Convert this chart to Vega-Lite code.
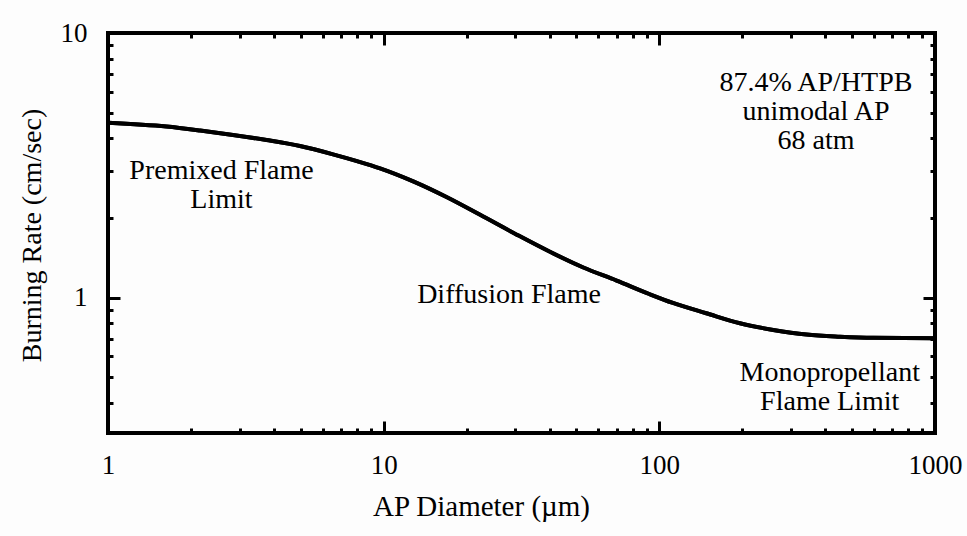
{
  "$schema": "https://vega.github.io/schema/vega-lite/v6.json",
  "width": 827,
  "height": 400,
  "autosize": {"type": "none"},
  "padding": {"left": 108, "top": 33, "right": 32, "bottom": 103},
  "background": "#fdfdfd",
  "config": {
    "view": {"stroke": "black", "strokeWidth": 4},
    "font": "Liberation Serif",
    "axis": {
      "domain": false,
      "grid": false,
      "labelFont": "Liberation Serif",
      "titleFont": "Liberation Serif",
      "labelFontSize": 27,
      "titleFontSize": 29,
      "labelColor": "black",
      "titleColor": "black",
      "titleFontWeight": "normal",
      "tickColor": "black",
      "tickWidth": 3,
      "labelFlush": false,
      "labelOverlap": false,
      "labelBound": false
    }
  },
  "datasets": {
    "curve": [
      {"d": 1.0, "r": 4.58},
      {"d": 1.63, "r": 4.43},
      {"d": 2.16, "r": 4.28},
      {"d": 2.84, "r": 4.12},
      {"d": 3.76, "r": 3.94},
      {"d": 4.97, "r": 3.74},
      {"d": 6.55, "r": 3.48},
      {"d": 8.0, "r": 3.28},
      {"d": 9.7, "r": 3.08},
      {"d": 12.8, "r": 2.75},
      {"d": 16.9, "r": 2.40},
      {"d": 22.3, "r": 2.06},
      {"d": 30.4, "r": 1.73},
      {"d": 40.1, "r": 1.49},
      {"d": 53.0, "r": 1.30},
      {"d": 70.0, "r": 1.16},
      {"d": 92.4, "r": 1.03},
      {"d": 112, "r": 0.955},
      {"d": 148, "r": 0.873},
      {"d": 196, "r": 0.800},
      {"d": 259, "r": 0.755},
      {"d": 342, "r": 0.725},
      {"d": 452, "r": 0.712},
      {"d": 597, "r": 0.705},
      {"d": 1000, "r": 0.703}
    ],
    "notes": [
      {"d": 2.58, "r": 3.01, "label": "Premixed Flame\nLimit"},
      {"d": 28.5, "r": 1.024, "label": "Diffusion Flame"},
      {"d": 370, "r": 6.47, "label": "87.4% AP/HTPB\nunimodal AP\n68 atm"},
      {"d": 415, "r": 0.519, "label": "Monopropellant\nFlame Limit"}
    ]
  },
  "resolve": {"axis": {"x": "independent", "y": "independent"}},
  "layer": [
    {
      "data": {"name": "curve"},
      "mark": {"type": "line", "color": "black", "strokeWidth": 4, "interpolate": "monotone", "clip": true},
      "encoding": {
        "x": {
          "field": "d", "type": "quantitative",
          "scale": {"type": "log", "domain": [1, 1000], "nice": false},
          "axis": {
            "orient": "bottom",
            "title": "AP Diameter (\u00b5m)",
            "titleX": 373,
            "titleY": 82,
            "titleAlign": "center",
            "titleBaseline": "alphabetic",
            "values": [1,2,3,4,5,6,7,8,9,10,20,30,40,50,60,70,80,90,100,200,300,400,500,600,700,800,900,1000],
            "labelExpr": "indexof([1,10,100,1000], datum.value) >= 0 ? '' + datum.value : ''",
            "tickSize": {"condition": {"test": "indexof([1,10,100,1000], datum.value) >= 0", "value": -12}, "value": -5},
            "labelPadding": 31,
            "labelBaseline": "top"
          }
        },
        "y": {
          "field": "r", "type": "quantitative",
          "scale": {"type": "log", "domain": [0.308, 10], "nice": false},
          "axis": {
            "orient": "left",
            "title": "Burning Rate (cm/sec)",
            "titleFontSize": 28,
            "titleX": -76,
            "titleY": 202,
            "titleAngle": -90,
            "titleAlign": "center",
            "titleBaseline": "middle",
            "values": [0.4,0.5,0.6,0.7,0.8,0.9,1,2,3,4,5,6,7,8,9,10],
            "labelExpr": "indexof([1,10], datum.value) >= 0 ? '' + datum.value : ''",
            "tickSize": {"condition": {"test": "indexof([1,10], datum.value) >= 0", "value": -12}, "value": -5},
            "labelPadding": 33,
            "labelBaseline": "middle"
          }
        }
      }
    },
    {
      "data": {"name": "curve"},
      "mark": {"type": "line", "color": "black", "strokeWidth": 4, "interpolate": "monotone", "clip": true},
      "encoding": {
        "x": {
          "field": "d", "type": "quantitative",
          "scale": {"type": "log", "domain": [1, 1000], "nice": false},
          "axis": {
            "orient": "top",
            "title": null,
            "labels": false,
            "values": [1,2,3,4,5,6,7,8,9,10,20,30,40,50,60,70,80,90,100,200,300,400,500,600,700,800,900,1000],
            "tickSize": {"condition": {"test": "indexof([1,10,100,1000], datum.value) >= 0", "value": -12}, "value": -5}
          }
        },
        "y": {
          "field": "r", "type": "quantitative",
          "scale": {"type": "log", "domain": [0.308, 10], "nice": false},
          "axis": {
            "orient": "right",
            "title": null,
            "labels": false,
            "values": [0.4,0.5,0.6,0.7,0.8,0.9,1,2,3,4,5,6,7,8,9,10],
            "tickSize": {"condition": {"test": "indexof([1,10], datum.value) >= 0", "value": -12}, "value": -5}
          }
        }
      }
    },
    {
      "data": {"name": "notes"},
      "mark": {"type": "text", "font": "Liberation Serif", "fontSize": 28, "color": "black", "align": "center", "baseline": "middle", "lineBreak": "\n", "lineHeight": 29},
      "encoding": {
        "x": {"field": "d", "type": "quantitative", "scale": {"type": "log", "domain": [1, 1000], "nice": false}, "axis": null},
        "y": {"field": "r", "type": "quantitative", "scale": {"type": "log", "domain": [0.308, 10], "nice": false}, "axis": null},
        "text": {"field": "label"}
      }
    }
  ]
}
